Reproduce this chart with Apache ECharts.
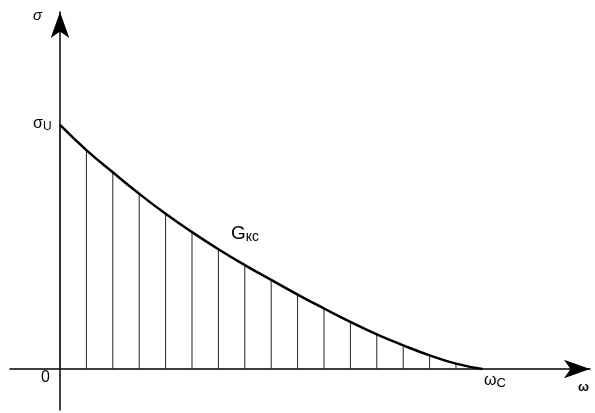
<!DOCTYPE html>
<html>
<head>
<meta charset="utf-8">
<script src="https://cdn.jsdelivr.net/npm/echarts@6/dist/echarts.min.js"></script>
<style>
  html, body { margin: 0; padding: 0; background: #fff; }
  #chart { width: 595px; height: 413px; }
</style>
</head>
<body>
<div id="chart"></div>
<script>
// Ordinates of the hatched region: frequency step index and stress fraction of σU
const omegaSteps = [0, 1, 2, 3, 4, 5, 6, 7, 8, 9, 10, 11, 12, 13, 14, 15, 16];
const sigmaValues = [1.000, 0.897, 0.806, 0.718, 0.636, 0.561, 0.491, 0.426, 0.365,
                     0.305, 0.248, 0.193, 0.142, 0.097, 0.056, 0.022, 0.000];

const curveData = omegaSteps.map((w, i) => [w, sigmaValues[i]]);

const chart = echarts.init(document.getElementById('chart'), null, { renderer: 'canvas' });

const axisCommon = {
  type: 'value',
  axisTick: { show: false },
  axisLabel: { show: false },
  splitLine: { show: false },
  axisLine: {
    show: true,
    onZero: true,
    symbol: ['none', 'arrow'],
    symbolSize: [14, 26],
    lineStyle: { color: '#000', width: 1.5 }
  }
};

const font = 'Liberation Sans, DejaVu Sans, sans-serif';

chart.setOption({
  backgroundColor: '#fff',
  animation: false,
  grid: { left: 10, right: 5, top: 12, bottom: 3 },
  xAxis: Object.assign({}, axisCommon, { min: -1.894, max: 20.076 }),
  yAxis: Object.assign({}, axisCommon, { min: -0.168, max: 1.463 }),
  series: [
    {
      type: 'bar',
      barWidth: 1,
      data: curveData,
      itemStyle: { color: '#222' },
      silent: true,
      z: 2
    },
    {
      type: 'line',
      data: curveData,
      smooth: 0.5,
      showSymbol: false,
      lineStyle: { color: '#000', width: 2.5 },
      z: 3
    }
  ],
  graphic: [
    { type: 'text', left: 33, top: 8,
      style: { text: 'σ', font: 'italic 15px ' + font, fill: '#000' } },
    { type: 'text', left: 33, top: 116,
      style: { text: 'σ{u|U}', font: '16px ' + font, fill: '#000',
               rich: { u: { fontSize: 12, fontFamily: font, padding: [6, 0, 0, 0] } } } },
    { type: 'text', left: 41, top: 370,
      style: { text: '0', font: '16px ' + font, fill: '#000' } },
    { type: 'text', left: 484, top: 373,
      style: { text: 'ω{c|C}', font: '16px ' + font, fill: '#000',
               rich: { c: { fontSize: 13, fontFamily: font, padding: [5, 0, 0, 0] } } } },
    { type: 'text', left: 578, top: 381,
      style: { text: 'ω', font: 'bold 13px ' + font, fill: '#000' } },
    { type: 'text', left: 231, top: 224,
      style: { text: 'G{s|кс}', font: '19px ' + font, fill: '#000',
               rich: { s: { fontSize: 14, fontFamily: font, padding: [8, 0, 0, 0] } } } }
  ]
});
</script>
</body>
</html>
